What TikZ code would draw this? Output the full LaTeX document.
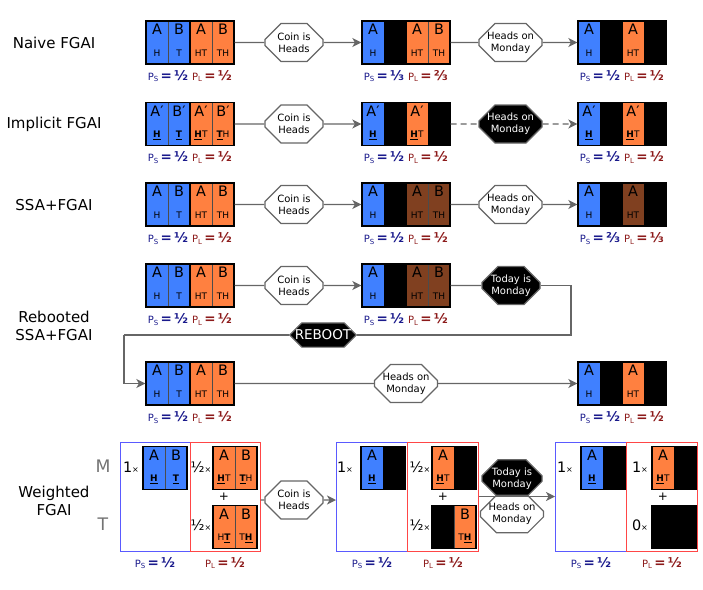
\documentclass[tikz,border=0pt]{standalone}
\usepackage{fontspec}
\setmainfont{DejaVu Sans}
\usetikzlibrary{shapes.misc,arrows.meta}
\definecolor{cblue}{RGB}{64,128,255}
\definecolor{corange}{RGB}{255,128,64}
\definecolor{cbrown}{RGB}{128,64,32}
\definecolor{cgray}{RGB}{102,102,102}
\definecolor{cnavy}{RGB}{26,26,140}
\definecolor{cdred}{RGB}{140,26,26}
\definecolor{fblue}{RGB}{90,90,255}
\definecolor{fred}{RGB}{255,70,70}
\begin{document}
\begin{tikzpicture}[x=1pt, y=-1pt,
    cell/.style ={rectangle, draw=black!70, line width=0.6pt, minimum width=22, minimum height=43, inner sep=0pt, align=center, font=\Large, text height=27pt, text depth=0pt},
    sblue/.style ={cell, fill=cblue},
    sorange/.style ={cell, fill=corange},
    sbrown/.style ={cell, fill=cbrown},
    sblack/.style ={cell, fill=black, draw=black},
    pair/.style ={rectangle, draw=black, line width=1.3pt, minimum width=44, minimum height=43, inner sep=0pt},
    octo/.style ={chamfered rectangle, chamfered rectangle xsep=8pt, chamfered rectangle ysep=8pt, draw=cgray, line width=1.2pt, fill=white, align=center, inner sep=0pt, minimum width=58, minimum height=38},
    octob/.style ={octo, fill=black, text=white},
    rowlbl/.style ={align=center, font=\fontsize{15}{18}\selectfont},
    ps/.style ={text=cnavy, font=\normalsize, inner sep=0pt},
    pl/.style ={text=cdred, font=\normalsize, inner sep=0pt},
    conn/.style ={draw=cgray, line width=1.4pt},
    arr/.style ={conn, -{Stealth[length=9pt, width=9pt, inset=2.5pt]}},
    wframeS/.style ={rectangle, draw=fblue, line width=1pt, minimum width=71, minimum height=109},
    wframeL/.style ={rectangle, draw=fred, line width=1pt, minimum width=71, minimum height=109},
    factor/.style ={font=\Large, inner sep=0pt},
    day/.style ={text=black!55, font=\LARGE, inner sep=0pt}]
   \useasboundingbox (0,0) rectangle (703,589);

   \node[rowlbl] (n1) at (54,43) {Naive FGAI};
   \node[rowlbl] (n2) at (54,124) {Implicit FGAI};
   \node[rowlbl] (n3) at (54,205) {SSA+FGAI};
   \node[rowlbl] (n4) at (54,326) {Rebooted\\SSA+FGAI};
   \node[rowlbl] (n5) at (54,501) {Weighted\\FGAI};

   \node[sblue] (r1a1) at (157,42.5) {A\\[3.5pt]\small H};
   \node[sblue] (r1a2) at (179,42.5) {B\\[3.5pt]\small T};
   \node[sorange] (r1a3) at (201,42.5) {A\\[3.5pt]\small HT};
   \node[sorange] (r1a4) at (223,42.5) {B\\[3.5pt]\small TH};
   \node[pair] (r1aS) at (168,42.5) {};
   \node[pair] (r1aL) at (212,42.5) {};
   \node[sblue] (r1b1) at (373,42.5) {A\\[3.5pt]\small H};
   \node[sblack] (r1b2) at (395,42.5) {};
   \node[sorange] (r1b3) at (417,42.5) {A\\[3.5pt]\small HT};
   \node[sorange] (r1b4) at (439,42.5) {B\\[3.5pt]\small TH};
   \node[pair] (r1bS) at (384,42.5) {};
   \node[pair] (r1bL) at (428,42.5) {};
   \node[sblue] (r1c1) at (589,42.5) {A\\[3.5pt]\small H};
   \node[sblack] (r1c2) at (611,42.5) {};
   \node[sorange] (r1c3) at (633,42.5) {A\\[3.5pt]\small HT};
   \node[sblack] (r1c4) at (655,42.5) {};
   \node[pair] (r1cS) at (600,42.5) {};
   \node[pair] (r1cL) at (644,42.5) {};
   \node[octo] (o1a) at (294,42.5) {Coin is\\Heads};
   \node[octo] (o1b) at (510.5,42.5) {Heads on\\Monday};
   \node[ps] (p1a) at (168,76) {P\textsubscript{S}\,{\fontsize{13.5}{14}\bfseries=\,½}};
   \node[pl] (q1a) at (212,76) {P\textsubscript{L}\,{\fontsize{13.5}{14}\bfseries=\,½}};
   \node[ps] (p1b) at (384,76) {P\textsubscript{S}\,{\fontsize{13.5}{14}\bfseries=\,⅓}};
   \node[pl] (q1b) at (428,76) {P\textsubscript{L}\,{\fontsize{13.5}{14}\bfseries=\,⅔}};
   \node[ps] (p1c) at (600,76) {P\textsubscript{S}\,{\fontsize{13.5}{14}\bfseries=\,½}};
   \node[pl] (q1c) at (644,76) {P\textsubscript{L}\,{\fontsize{13.5}{14}\bfseries=\,½}};
   \draw[conn] (r1aL) to (o1a);
   \draw[arr] (o1a) to (r1bS);
   \draw[conn] (r1bL) to (o1b);
   \draw[arr] (o1b) to (r1cS);

   \node[sblue] (r2a1) at (157,124) {A′\\[3.5pt]\small\underline{\textbf{H}}};
   \node[sblue] (r2a2) at (179,124) {B′\\[3.5pt]\small\underline{\textbf{T}}};
   \node[sorange] (r2a3) at (201,124) {A′\\[3.5pt]\small\underline{\textbf{H}}T};
   \node[sorange] (r2a4) at (223,124) {B′\\[3.5pt]\small\underline{\textbf{T}}H};
   \node[pair] (r2aS) at (168,124) {};
   \node[pair] (r2aL) at (212,124) {};
   \node[sblue] (r2b1) at (373,124) {A′\\[3.5pt]\small\underline{\textbf{H}}};
   \node[sblack] (r2b2) at (395,124) {};
   \node[sorange] (r2b3) at (417,124) {A′\\[3.5pt]\small\underline{\textbf{H}}T};
   \node[sblack] (r2b4) at (439,124) {};
   \node[pair] (r2bS) at (384,124) {};
   \node[pair] (r2bL) at (428,124) {};
   \node[sblue] (r2c1) at (589,124) {A′\\[3.5pt]\small\underline{\textbf{H}}};
   \node[sblack] (r2c2) at (611,124) {};
   \node[sorange] (r2c3) at (633,124) {A′\\[3.5pt]\small\underline{\textbf{H}}T};
   \node[sblack] (r2c4) at (655,124) {};
   \node[pair] (r2cS) at (600,124) {};
   \node[pair] (r2cL) at (644,124) {};
   \node[octo] (o2a) at (294,124) {Coin is\\Heads};
   \node[octob] (o2b) at (510.5,124) {Heads on\\Monday};
   \node[ps] (p2a) at (168,157.5) {P\textsubscript{S}\,{\fontsize{13.5}{14}\bfseries=\,½}};
   \node[pl] (q2a) at (212,157.5) {P\textsubscript{L}\,{\fontsize{13.5}{14}\bfseries=\,½}};
   \node[ps] (p2b) at (384,157.5) {P\textsubscript{S}\,{\fontsize{13.5}{14}\bfseries=\,½}};
   \node[pl] (q2b) at (428,157.5) {P\textsubscript{L}\,{\fontsize{13.5}{14}\bfseries=\,½}};
   \node[ps] (p2c) at (600,157.5) {P\textsubscript{S}\,{\fontsize{13.5}{14}\bfseries=\,½}};
   \node[pl] (q2c) at (644,157.5) {P\textsubscript{L}\,{\fontsize{13.5}{14}\bfseries=\,½}};
   \draw[conn] (r2aL) to (o2a);
   \draw[arr] (o2a) to (r2bS);
   \draw[conn, dash pattern=on 6pt off 4pt] (r2bL) to (o2b);
   \draw[arr, dash pattern=on 6pt off 4pt] (o2b) to (r2cS);

   \node[sblue] (r3a1) at (157,204.5) {A\\[3.5pt]\small H};
   \node[sblue] (r3a2) at (179,204.5) {B\\[3.5pt]\small T};
   \node[sorange] (r3a3) at (201,204.5) {A\\[3.5pt]\small HT};
   \node[sorange] (r3a4) at (223,204.5) {B\\[3.5pt]\small TH};
   \node[pair] (r3aS) at (168,204.5) {};
   \node[pair] (r3aL) at (212,204.5) {};
   \node[sblue] (r3b1) at (373,204.5) {A\\[3.5pt]\small H};
   \node[sblack] (r3b2) at (395,204.5) {};
   \node[sbrown] (r3b3) at (417,204.5) {A\\[3.5pt]\small HT};
   \node[sbrown] (r3b4) at (439,204.5) {B\\[3.5pt]\small TH};
   \node[pair] (r3bS) at (384,204.5) {};
   \node[pair] (r3bL) at (428,204.5) {};
   \node[sblue] (r3c1) at (589,204.5) {A\\[3.5pt]\small H};
   \node[sblack] (r3c2) at (611,204.5) {};
   \node[sbrown] (r3c3) at (633,204.5) {A\\[3.5pt]\small HT};
   \node[sblack] (r3c4) at (655,204.5) {};
   \node[pair] (r3cS) at (600,204.5) {};
   \node[pair] (r3cL) at (644,204.5) {};
   \node[octo] (o3a) at (294,204.5) {Coin is\\Heads};
   \node[octo] (o3b) at (510.5,204.5) {Heads on\\Monday};
   \node[ps] (p3a) at (168,238.5) {P\textsubscript{S}\,{\fontsize{13.5}{14}\bfseries=\,½}};
   \node[pl] (q3a) at (212,238.5) {P\textsubscript{L}\,{\fontsize{13.5}{14}\bfseries=\,½}};
   \node[ps] (p3b) at (384,238.5) {P\textsubscript{S}\,{\fontsize{13.5}{14}\bfseries=\,½}};
   \node[pl] (q3b) at (428,238.5) {P\textsubscript{L}\,{\fontsize{13.5}{14}\bfseries=\,½}};
   \node[ps] (p3c) at (600,238.5) {P\textsubscript{S}\,{\fontsize{13.5}{14}\bfseries=\,⅔}};
   \node[pl] (q3c) at (644,238.5) {P\textsubscript{L}\,{\fontsize{13.5}{14}\bfseries=\,⅓}};
   \draw[conn] (r3aL) to (o3a);
   \draw[arr] (o3a) to (r3bS);
   \draw[conn] (r3bL) to (o3b);
   \draw[arr] (o3b) to (r3cS);

   \node[sblue] (r4a1) at (157,285.5) {A\\[3.5pt]\small H};
   \node[sblue] (r4a2) at (179,285.5) {B\\[3.5pt]\small T};
   \node[sorange] (r4a3) at (201,285.5) {A\\[3.5pt]\small HT};
   \node[sorange] (r4a4) at (223,285.5) {B\\[3.5pt]\small TH};
   \node[pair] (r4aS) at (168,285.5) {};
   \node[pair] (r4aL) at (212,285.5) {};
   \node[sblue] (r4b1) at (373,285.5) {A\\[3.5pt]\small H};
   \node[sblack] (r4b2) at (395,285.5) {};
   \node[sbrown] (r4b3) at (417,285.5) {A\\[3.5pt]\small HT};
   \node[sbrown] (r4b4) at (439,285.5) {B\\[3.5pt]\small TH};
   \node[pair] (r4bS) at (384,285.5) {};
   \node[pair] (r4bL) at (428,285.5) {};
   \node[octo] (o4a) at (294,285.5) {Coin is\\Heads};
   \node[octob] (o4b) at (511,285.5) {Today is\\Monday};
   \node[ps] (p4a) at (168,319.5) {P\textsubscript{S}\,{\fontsize{13.5}{14}\bfseries=\,½}};
   \node[pl] (q4a) at (212,319.5) {P\textsubscript{L}\,{\fontsize{13.5}{14}\bfseries=\,½}};
   \node[ps] (p4b) at (384,319.5) {P\textsubscript{S}\,{\fontsize{13.5}{14}\bfseries=\,½}};
   \node[pl] (q4b) at (428,319.5) {P\textsubscript{L}\,{\fontsize{13.5}{14}\bfseries=\,½}};
   \node[octob, chamfered rectangle xsep=9pt, chamfered rectangle ysep=7pt, minimum width=66, minimum height=20, font=\fontsize{13.5}{15}\selectfont] (rb) at (323,335) {REBOOT};

   \node[sblue] (r5a1) at (157,383.5) {A\\[3.5pt]\small H};
   \node[sblue] (r5a2) at (179,383.5) {B\\[3.5pt]\small T};
   \node[sorange] (r5a3) at (201,383.5) {A\\[3.5pt]\small HT};
   \node[sorange] (r5a4) at (223,383.5) {B\\[3.5pt]\small TH};
   \node[pair] (r5aS) at (168,383.5) {};
   \node[pair] (r5aL) at (212,383.5) {};
   \node[sblue] (r5c1) at (589,383.5) {A\\[3.5pt]\small H};
   \node[sblack] (r5c2) at (611,383.5) {};
   \node[sorange] (r5c3) at (633,383.5) {A\\[3.5pt]\small HT};
   \node[sblack] (r5c4) at (655,383.5) {};
   \node[pair] (r5cS) at (600,383.5) {};
   \node[pair] (r5cL) at (644,383.5) {};
   \node[octo] (o5) at (406,383.5) {Heads on\\Monday};
   \node[ps] (p5a) at (168,417.5) {P\textsubscript{S}\,{\fontsize{13.5}{14}\bfseries=\,½}};
   \node[pl] (q5a) at (212,417.5) {P\textsubscript{L}\,{\fontsize{13.5}{14}\bfseries=\,½}};
   \node[ps] (p5c) at (600,417.5) {P\textsubscript{S}\,{\fontsize{13.5}{14}\bfseries=\,½}};
   \node[pl] (q5c) at (644,417.5) {P\textsubscript{L}\,{\fontsize{13.5}{14}\bfseries=\,½}};
   \coordinate (k1) at (571,335);
   \coordinate (k2) at (124,335);
   \draw[conn] (r4aL) to (o4a);
   \draw[arr] (o4a) to (r4bS);
   \draw[conn] (r4bL) to (o4b);
   \draw[conn] (o4b) -| (k1) -- (rb) -- (k2);
   \draw[arr] (k2) |- (r5aS);
   \draw[conn] (r5aL) to (o5);
   \draw[arr] (o5) to (r5cS);

   \node[day] (dm) at (103,466) {M};
   \node[day] (dt) at (103,524.5) {T};
   \node[wframeS, minimum width=70] (w1S) at (155,496.5) {};
   \node[wframeL, minimum width=70] (w1L) at (225,496.5) {};
   \node[wframeS] (w2S) at (372,496.5) {};
   \node[wframeL] (w2L) at (443,496.5) {};
   \node[wframeS] (w3S) at (591,496.5) {};
   \node[wframeL] (w3L) at (662,496.5) {};

   \node[sblue] (w1a1) at (154,468) {A\\[3.5pt]\small\underline{\textbf{H}}};
   \node[sblue] (w1a2) at (176,468) {B\\[3.5pt]\small\underline{\textbf{T}}};
   \node[pair] (w1a) at (165,468) {};
   \node[sorange] (w1b1) at (224,468) {A\\[3.5pt]\small\underline{\textbf{H}}T};
   \node[sorange] (w1b2) at (246,468) {B\\[3.5pt]\small\underline{\textbf{T}}H};
   \node[pair] (w1b) at (235,468) {};
   \node[sorange] (w1c1) at (224,527) {A\\[3.5pt]\small H\underline{\textbf{T}}};
   \node[sorange] (w1c2) at (246,527) {B\\[3.5pt]\small T\underline{\textbf{H}}};
   \node[pair] (w1c) at (235,527) {};
   \node[factor] (f1a) at (131,467) {1{\footnotesize ×}};
   \node[factor] (f1b) at (201,467) {½{\footnotesize ×}};
   \node[factor] (f1c) at (201,525) {½{\footnotesize ×}};
   \node[factor, font=\large] (s1) at (224,496.5) {+};

   \node[sblue] (w2a1) at (372,468) {A\\[3.5pt]\small\underline{\textbf{H}}};
   \node[sblack] (w2a2) at (394,468) {};
   \node[pair] (w2a) at (383,468) {};
   \node[sorange] (w2b1) at (443,468) {A\\[3.5pt]\small\underline{\textbf{H}}T};
   \node[sblack] (w2b2) at (465,468) {};
   \node[pair] (w2b) at (454,468) {};
   \node[sblack] (w2c1) at (443,527) {};
   \node[sorange] (w2c2) at (465,527) {B\\[3.5pt]\small T\underline{\textbf{H}}};
   \node[pair] (w2c) at (454,527) {};
   \node[factor] (f2a) at (345,467) {1{\footnotesize ×}};
   \node[factor] (f2b) at (420,467) {½{\footnotesize ×}};
   \node[factor] (f2c) at (420,525) {½{\footnotesize ×}};
   \node[factor, font=\large] (s2) at (443,496.5) {+};

   \node[sblue] (w3a1) at (592,468) {A\\[3.5pt]\small\underline{\textbf{H}}};
   \node[sblack] (w3a2) at (614,468) {};
   \node[pair] (w3a) at (603,468) {};
   \node[sorange] (w3b1) at (663,468) {A\\[3.5pt]\small\underline{\textbf{H}}T};
   \node[sblack] (w3b2) at (685,468) {};
   \node[pair] (w3b) at (674,468) {};
   \node[sblack] (w3c1) at (663,527) {};
   \node[sblack] (w3c2) at (685,527) {};
   \node[pair] (w3c) at (674,527) {};
   \node[factor] (f3a) at (565,467) {1{\footnotesize ×}};
   \node[factor] (f3b) at (640,467) {1{\footnotesize ×}};
   \node[factor] (f3c) at (640,525) {0{\footnotesize ×}};
   \node[factor, font=\large] (s3) at (663,496.5) {+};

   \node[octo] (o6a) at (294,500) {Coin is\\Heads};
   \node[octob, minimum width=60, minimum height=33] (o6b) at (512,478.5) {Today is\\Monday};
   \node[octo, minimum width=60, minimum height=33] (o6c) at (512,514) {Heads on\\Monday};
   \node[ps] (p6a) at (155,563) {P\textsubscript{S}\,{\fontsize{13.5}{14}\bfseries=\,½}};
   \node[pl] (q6a) at (225,563) {P\textsubscript{L}\,{\fontsize{13.5}{14}\bfseries=\,½}};
   \node[ps] (p6b) at (372,563) {P\textsubscript{S}\,{\fontsize{13.5}{14}\bfseries=\,½}};
   \node[pl] (q6b) at (443,563) {P\textsubscript{L}\,{\fontsize{13.5}{14}\bfseries=\,½}};
   \node[ps] (p6c) at (591,563) {P\textsubscript{S}\,{\fontsize{13.5}{14}\bfseries=\,½}};
   \node[pl] (q6c) at (662,563) {P\textsubscript{L}\,{\fontsize{13.5}{14}\bfseries=\,½}};
   \draw[conn] (w1L.east |- o6a) to (o6a);
   \draw[arr] (o6a) to (o6a -| w2S.west);
   \draw[arr] (w2L) to (w3S);

 \end{tikzpicture}
\end{document}
